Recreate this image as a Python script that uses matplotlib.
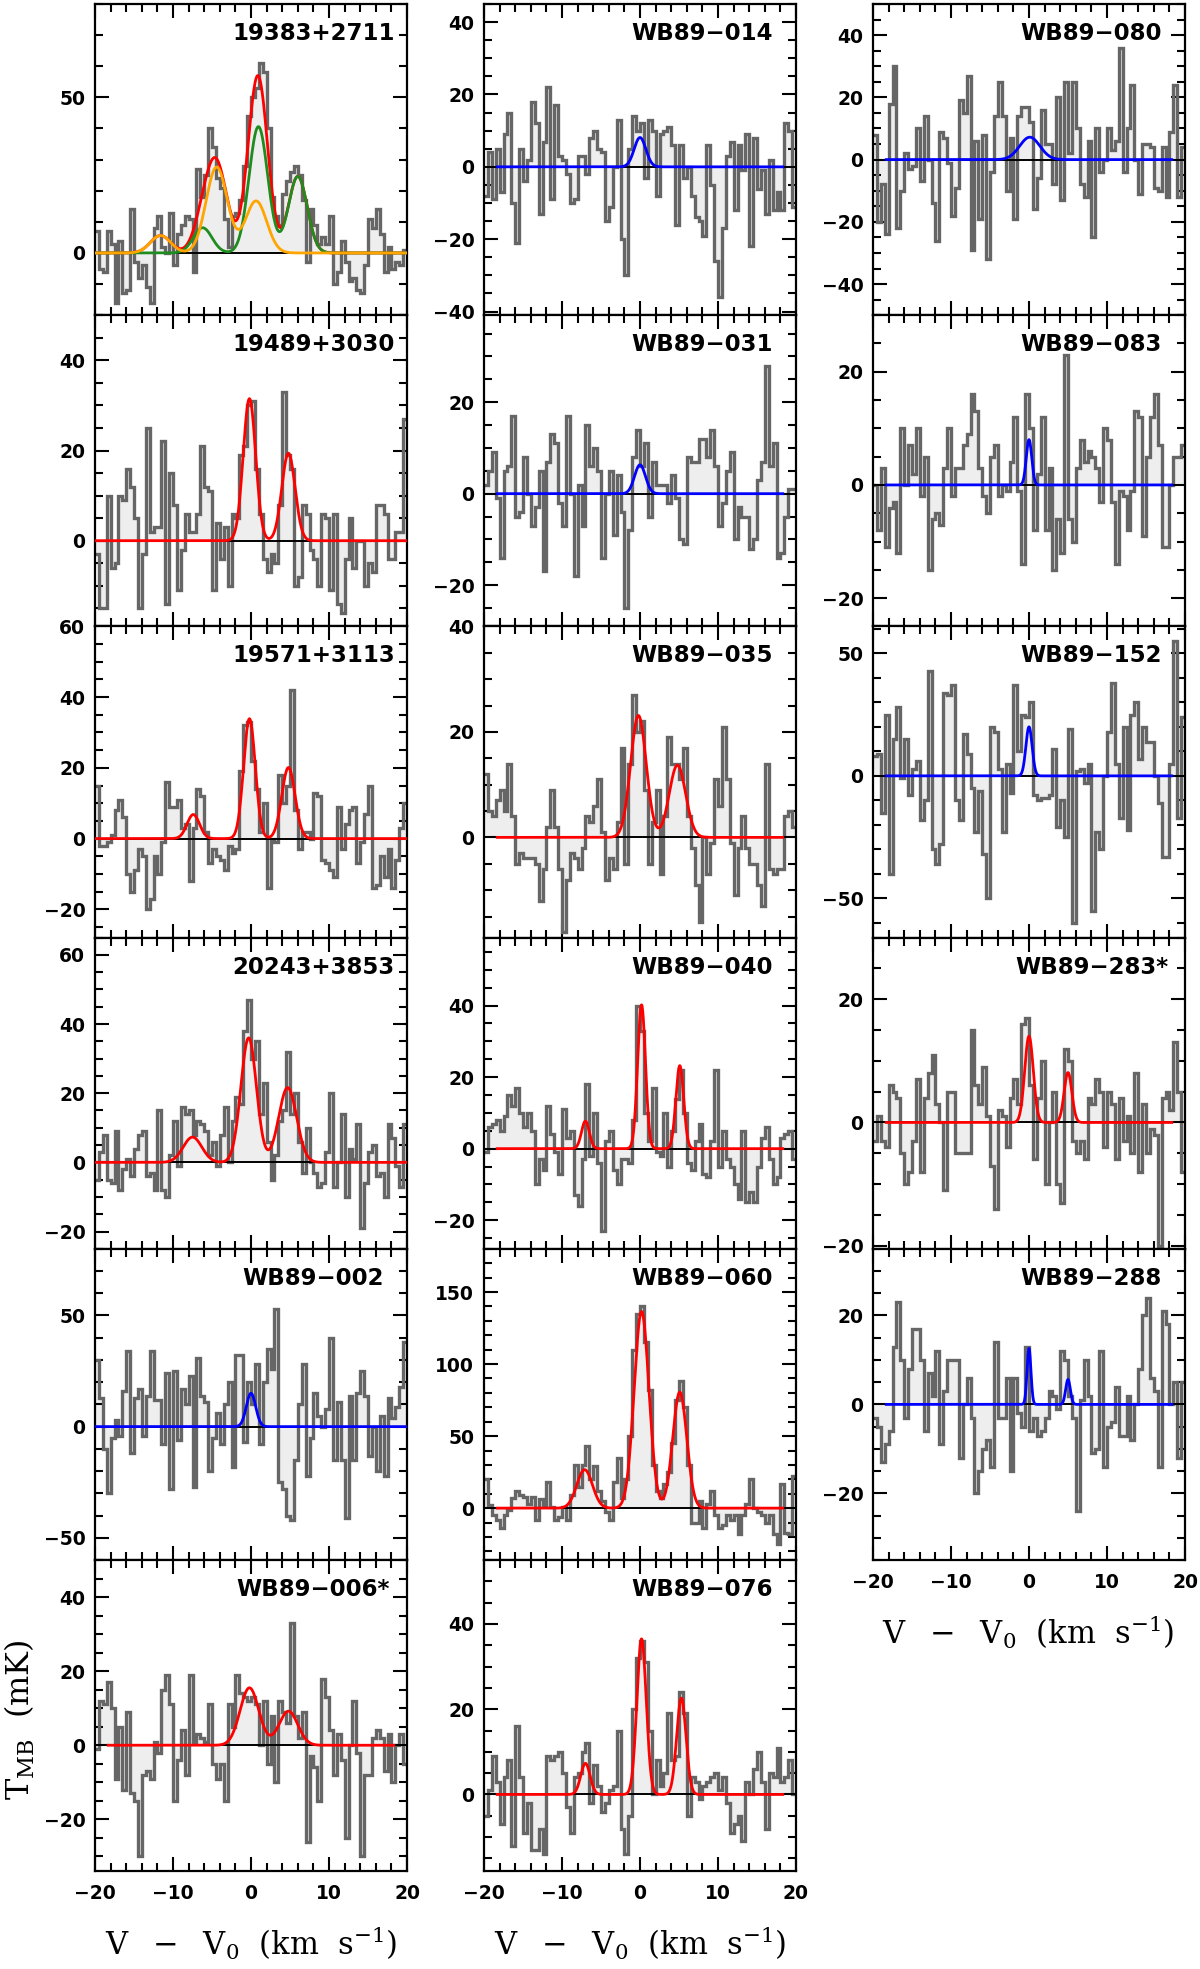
import matplotlib
matplotlib.use('Agg')
import matplotlib.pyplot as plt
from matplotlib.ticker import MultipleLocator
import numpy as np

plt.rcParams['mathtext.fontset'] = 'custom'
plt.rcParams['mathtext.rm'] = 'DejaVu Serif:weight=normal'
plt.rcParams['mathtext.it'] = 'DejaVu Serif:weight=normal:style=italic'
plt.rcParams['mathtext.bf'] = 'DejaVu Serif:weight=bold'
plt.rcParams['font.weight'] = 'bold'
plt.rcParams['font.size'] = 13.5

# velocity channels: 80 channels of 0.5 km/s from -20 to 20
n_chan = 80
vel_edges = np.linspace(-20.0, 20.0, n_chan + 1)

# spectra (T_MB in mK), one value per channel
spec_19383 = [7, -5, -6, 7, 3, -16, 4, -13, -12, 14,
              -3, -8, -4, -11, -16, 8, 12, 2, 0, 13,
              -4, 6, 9, 12, 11, -6, 27, 18, 25, 40,
              34, 24, 21, 11, 2, 12, 13, 17, 28, 44,
              50, 53, 61, 58, 40, 18, 12, 9, 19, 23,
              26, 28, 25, 17, -3, 14, 9, 3, 5, 3,
              12, -10, -6, 4, -3, -9, -8, -12, -13, -4,
              11, 8, 14, 6, -6, 2, -5, -3, -4, 1]
spec_19489 = [-3, -15, -15, 10, -6, -5, 10, 9, 16, 12,
              5, -15, -3, 25, 2, 3, 3, 22, -14, 15,
              8, -11, -2, 6, 2, 2, 6, 21, 12, 11,
              -11, 4, -4, 3, -10, 6, 5, 19, 21, 30,
              31, 16, 6, -4, -7, -3, -5, 8, 33, 19,
              16, -10, -8, 8, 6, -2, -4, -10, 6, 5,
              -11, 6, -14, -16, -4, 5, -6, 0, 0, -10,
              -5, -7, 8, 8, 6, -4, -4, 2, 2, 27]
spec_19571 = [15, -2, -2, -1, 1, 8, 11, 6, -10, -15,
              -9, -3, -5, -20, -17, -5, -10, -1, 16, 9,
              9, 11, 3, 4, -12, 3, 14, 12, 2, -7,
              -3, -5, -6, -9, -2, -4, -3, 19, 32, 33,
              22, 14, 2, 10, -14, 0, -1, 18, 10, 15,
              42, 8, -3, 2, 2, 0, 13, 12, -6, -7,
              -9, -11, 9, -3, 4, 8, 9, -7, -1, 7,
              15, -14, -13, -5, -11, -3, -14, -6, 3, 10]
spec_20243 = [-5, 3, 8, -5, -6, 9, -8, -2, 1, -4,
              4, 8, 9, -4, -3, -8, 15, -8, -10, 2,
              12, -1, 16, 14, 15, 8, 12, 11, 9, 2,
              6, -1, 8, 16, 0, 12, 19, 17, 38, 47,
              30, 35, 14, 23, 6, -5, 2, 12, 15, 32,
              14, 20, 6, -3, 10, 0, -3, -7, -6, 3,
              20, -7, 0, 14, -10, 4, 1, 11, -19, -6,
              3, 5, -4, -3, -10, 11, 7, -1, -7, 11]
spec_002 = [30, 13, -10, -30, -5, 3, -4, 16, 34, -12,
            13, 17, -4, 14, 34, 12, 12, -8, 24, -28,
            25, -6, 17, 10, 23, -27, 31, 14, 11, -20,
            -5, 6, -8, 10, 20, -18, 32, 32, -7, 20,
            10, 28, -8, 20, 35, 26, 53, -25, -28, -40,
            -42, -15, 10, 28, -22, -5, 15, 5, 0, 8,
            40, -15, 11, -15, -41, 14, -15, 15, 25, 14,
            -13, 0, -20, 5, -22, 13, 4, 9, 18, 38]
spec_006 = [-1, 12, 11, 17, 10, -9, 5, -12, 9, -13,
            -15, -30, -8, -7, -9, 1, -2, 15, 19, 11,
            -15, -4, 4, -8, 19, 1, 3, 2, 1, 11,
            -5, -9, -5, -15, 11, 5, 19, 14, 13, 12,
            13, 11, 0, 12, -5, 8, -10, 12, 9, 6,
            33, 8, 2, 9, -26, -3, -6, -15, 18, 13,
            4, -8, 3, -4, -25, 0, 12, -2, -30, -8,
            -8, 2, 4, 2, -7, 3, -10, 0, 3, -5]
spec_014 = [-8, 4, -9, 5, -7, 9, 15, -10, -21, 5,
            -4, 2, 18, 12, -13, 7, 22, -9, 17, 3,
            2, -2, -10, -9, 3, 3, -2, 8, 10, 5,
            4, -15, -11, 0, 13, -20, -30, 5, 14, 10,
            12, -3, 13, 10, -8, 9, 10, 11, 6, -16,
            6, -3, 0, -8, -14, -15, -19, 6, -5, -26,
            -36, -17, 3, 7, -12, 6, -1, 9, -22, 8,
            -6, -1, -13, 2, -12, -7, -12, 12, 10, -11]
spec_031 = [2, 5, 9, -1, -14, 5, 6, 17, -5, -4,
            8, 0, -7, -3, 5, -17, 7, 13, 11, -2,
            -7, 17, 0, -18, 2, -7, 15, 6, 10, 5,
            -14, 0, 5, -9, 4, -4, -25, -8, 8, 14,
            6, 11, -5, 7, 2, 2, 2, -2, 4, -1,
            -10, -11, 8, 7, 7, 12, 12, 8, 14, 6,
            -7, -2, 5, 9, -10, -3, -5, -5, -12, -10,
            3, 7, 28, 6, 11, -14, -13, -5, 1, 1]
spec_035 = [12, 5, 4, 7, 9, 5, 14, 4, -5, -3,
            -4, -4, -4, -5, -12, -6, 2, 9, 2, -6,
            -18, -8, -3, -4, -6, -2, 4, 3, 6, 11,
            1, -8, -4, -6, 3, 17, -5, 14, 27, 20,
            22, 9, -5, 3, 9, -7, 4, 19, 14, 14,
            11, 17, 4, -2, -9, -16, 0, -7, -1, 11,
            6, 21, 11, -1, -11, -2, 4, -2, -5, -5,
            -9, -13, 14, -6, -7, -6, -6, 4, 5, 2]
spec_040 = [-1, 6, 7, 8, 5, 9, 15, 12, 17, 10,
            6, 10, 5, -10, -3, -6, 12, 4, -1, -7,
            11, 3, 5, -13, -16, -3, 18, -2, 10, -4,
            -23, 2, 5, -6, -10, -3, -3, -4, 8, 40,
            33, 10, 2, 17, -1, -2, 10, -5, 5, 14,
            22, 10, -4, -6, 2, 7, -7, -8, 2, 22,
            -5, 5, -3, -5, -10, -14, 5, -15, -12, -15,
            -5, 3, 6, -3, -10, -8, 3, 4, 5, -3]
spec_060 = [20, 2, -5, -8, -14, -5, -1, 7, 12, 9,
            8, 3, 8, -8, 6, 2, 18, 1, -8, -6,
            1, -8, 9, 30, 15, 30, 43, 20, 29, 12,
            5, -3, -8, 18, 35, 7, 20, 50, 110, 135,
            140, 115, 82, 30, 12, 7, 17, 25, 45, 75,
            88, 70, 30, -10, -10, 5, -14, 3, 12, -5,
            -14, -12, -5, -8, -5, -18, -5, 3, 20, 0,
            -3, -5, -10, -5, -18, -25, 17, -17, -18, 22]
spec_076 = [-5, 1, 9, 3, -7, 4, 8, -12, 16, 4,
            -9, -2, -13, -13, -8, -14, 9, 8, 9, 10,
            5, -3, -9, 4, 5, 10, 12, -2, 7, 2,
            -4, -2, 1, 2, 15, -8, -14, -5, 20, 32,
            36, 31, 15, 0, 8, 2, 5, 19, 8, 9,
            24, 19, -5, 4, 3, -1, 2, 3, 4, 5,
            1, 4, -2, -9, -7, -5, -11, 3, 0, 6,
            10, 3, -8, 5, 4, 11, 3, 4, 8, 0]
spec_080 = [8, -20, -8, -24, 18, 30, -22, -10, 2, -3,
            -2, 10, -7, 14, 0, -14, -26, 9, 7, -1,
            -18, -9, 19, 15, 27, -29, 6, -19, 8, -32,
            -4, 14, 25, 14, -10, 7, -19, 14, 17, 17,
            12, -16, -6, 16, 5, 5, -8, 20, -13, 25,
            2, 25, 10, -8, -12, 6, -25, 10, -4, 0,
            10, 3, 6, 36, -4, 10, 24, 0, -11, 5,
            5, 4, -9, -10, 4, -12, 9, 24, -12, 4]
spec_083 = [0, -8, 3, -11, -4, -3, -12, 10, 0, 7,
            2, 10, -2, 5, -15, -6, -5, -7, 3, 10,
            -2, 3, 3, 7, 9, 16, 13, 3, -2, -5,
            5, 7, -2, 0, -1, 4, 12, -1, -14, 16,
            10, -8, 2, 12, -8, 3, -15, -6, -12, 23,
            -6, -10, 3, 8, 4, 6, 5, 3, -3, 10,
            8, -3, -14, -1, -2, -8, -1, 13, 12, -9,
            5, 12, 16, 7, -11, -11, 0, 5, 5, 7]
spec_152 = [8, 9, -15, 25, -40, 15, 28, -1, 15, -8,
            3, 6, -18, -10, 43, -30, -36, -28, 34, 33,
            37, -10, -18, 17, 9, -5, -23, -6, -32, -50,
            20, 18, 3, -23, 5, -7, 37, 10, 25, 24,
            30, -8, -10, -9, -9, -8, 11, -21, -10, -25,
            19, -60, 2, 3, -3, 5, -55, -23, -30, 0,
            18, 38, 5, -17, 20, -22, 25, 30, 7, 20,
            14, 14, 0, -11, -33, -33, 5, 55, -17, 24]
spec_283 = [-3, 1, -3, -4, 6, 5, 4, -5, -10, -8,
            -3, 7, -8, 4, 8, 11, 3, 0, -11, 5,
            5, -5, -5, -5, -5, 15, 6, 3, 9, 1,
            -7, -14, 2, 1, -4, 4, 7, 3, 16, 17,
            6, -6, 4, 10, -10, 0, 5, -10, -13, 12,
            10, -3, -5, -3, -6, 4, 3, 7, 5, -4,
            5, 3, -6, 4, -3, 1, -5, 8, -8, 3,
            -5, -1, -2, -20, 4, 5, 2, 13, 5, -8]
spec_288 = [-3, -5, -13, -9, -6, 13, 23, 10, -3, 8,
            17, 17, 10, -6, 7, 2, 12, -9, 3, 10,
            10, 10, -12, 0, 6, -3, -20, -15, -10, -8,
            -14, 14, -3, -3, 6, -15, 6, -2, -5, 13,
            -6, -3, -7, -6, -3, 3, 2, -1, 12, 10,
            2, -3, -24, 1, 10, 2, -11, -10, 12, -14,
            -5, -4, 4, -7, -7, 2, -8, 0, 8, 20,
            24, 6, 3, -14, 21, 18, 0, 5, -12, 5]

# gaussian fit components: (amplitude mK, centre km/s, sigma km/s)
fit_19383_green = [(8.1, -6.2, 1.2), (40.6, 0.95, 1.2), (24.6, 6.0, 1.2)]
fit_19383_orange = [(5.6, -11.6, 1.3), (27.6, -4.4, 1.36), (16.7, 0.65, 1.36)]
fit_19489 = [(31.5, -0.2, 0.8), (19.4, 4.8, 0.85)]
fit_19571 = [(6.8, -7.4, 0.8), (33.9, -0.2, 0.75), (20.1, 4.8, 0.85)]
fit_20243 = [(7.3, -7.5, 1.2), (36.0, -0.3, 1.0), (21.6, 4.7, 1.15)]
fit_002 = [(15.0, 0.0, 0.6)]
fit_006 = [(15.5, -0.2, 1.2), (9.2, 4.8, 1.2)]
fit_014 = [(8.1, 0.0, 0.75)]
fit_031 = [(6.3, 0.0, 0.7)]
fit_035 = [(23.1, -0.2, 1.0), (13.7, 4.8, 1.05)]
fit_040 = [(7.7, -7.0, 0.5), (40.2, 0.2, 0.5), (23.2, 5.1, 0.5)]
fit_060 = [(26.7, -7.1, 1.0), (136.5, 0.2, 0.95), (80.5, 5.1, 0.9)]
fit_076 = [(7.3, -7.0, 0.6), (36.5, 0.2, 0.6), (22.6, 5.3, 0.6)]
fit_080 = [(7.2, 0.1, 1.3)]
fit_083 = [(8.0, 0.0, 0.35)]
fit_152 = [(20.0, 0.0, 0.4)]
fit_283 = [(14.0, 0.0, 0.55), (8.1, 5.0, 0.5)]
fit_288 = [(12.6, 0.0, 0.25), (5.6, 5.0, 0.3)]

M = '\u2212'
# name, spectrum, fit, fit colour, column, row, ylim, major, minor, fit spans full axis
panels = [
    ('19383+2711', spec_19383, None, 'red', 0, 0, (-20, 80), 50, 10, True),
    ('19489+3030', spec_19489, fit_19489, 'red', 0, 1, (-19, 50), 20, 5, True),
    ('19571+3113', spec_19571, fit_19571, 'red', 0, 2, (-28, 60), 20, 5, True),
    ('20243+3853', spec_20243, fit_20243, 'red', 0, 3, (-25, 65), 20, 5, True),
    ('WB89' + M + '002', spec_002, fit_002, 'blue', 0, 4, (-60, 80), 50, 10, True),
    ('WB89' + M + '006*', spec_006, fit_006, 'red', 0, 5, (-34, 50), 20, 5, False),
    ('WB89' + M + '014', spec_014, fit_014, 'blue', 1, 0, (-41, 45), 20, 5, False),
    ('WB89' + M + '031', spec_031, fit_031, 'blue', 1, 1, (-29, 39), 20, 5, False),
    ('WB89' + M + '035', spec_035, fit_035, 'red', 1, 2, (-19, 40), 20, 5, False),
    ('WB89' + M + '040', spec_040, fit_040, 'red', 1, 3, (-28, 59), 20, 5, False),
    ('WB89' + M + '060', spec_060, fit_060, 'red', 1, 4, (-36, 180), 50, 10, False),
    ('WB89' + M + '076', spec_076, fit_076, 'red', 1, 5, (-18, 55), 20, 5, False),
    ('WB89' + M + '080', spec_080, fit_080, 'blue', 2, 0, (-50, 50), 20, 5, False),
    ('WB89' + M + '083', spec_083, fit_083, 'blue', 2, 1, (-25, 30), 20, 5, False),
    ('WB89' + M + '152', spec_152, fit_152, 'blue', 2, 2, (-66, 61), 50, 10, False),
    ('WB89' + M + '283*', spec_283, fit_283, 'red', 2, 3, (-20.5, 30), 20, 5, False),
    ('WB89' + M + '288', spec_288, fit_288, 'blue', 2, 4, (-35, 35), 20, 5, False),
]
bottom_rows = {0: 5, 1: 5, 2: 4}


def gauss_sum(v, comps):
    y = np.zeros_like(v)
    for amp, cen, sig in comps:
        y += amp * np.exp(-0.5 * ((v - cen) / sig) ** 2)
    return y


FIG_W, FIG_H = 1200, 1969
col_left = [95, 484, 873]
panel_w = 312
panel_h = 311.2
top0 = 4

fig = plt.figure(figsize=(FIG_W / 100, FIG_H / 100), dpi=100)

for name, spec, fit, fcol, col, row, ylim, major, minor, full in panels:
    bottom = 1 - (top0 + (row + 1) * panel_h) / FIG_H
    ax = fig.add_axes([col_left[col] / FIG_W, bottom, panel_w / FIG_W, panel_h / FIG_H])

    ax.stairs(spec, vel_edges, baseline=0, fill=True, color='#eeeeee', zorder=1)
    ax.stairs(spec, vel_edges, baseline=None, color='#666666', lw=2.4, zorder=2)
    ax.axhline(0, color='black', lw=1.4, zorder=3)

    if full:
        vf = np.linspace(-20, 20, 1200)
    else:
        vf = np.linspace(-18.3, 18.3, 1100)
    if fit is None:
        green = gauss_sum(vf, fit_19383_green)
        orange = gauss_sum(vf, fit_19383_orange)
        ax.plot(vf, green + orange, color='red', lw=2.0, zorder=4)
        ax.plot(vf, green, color='#1f8c1f', lw=2.0, zorder=5)
        ax.plot(vf, orange, color='orange', lw=2.0, zorder=6)
    else:
        ax.plot(vf, gauss_sum(vf, fit), color=fcol, lw=2.0, zorder=4)

    ax.set_xlim(-20, 20)
    ax.set_ylim(*ylim)
    ax.xaxis.set_major_locator(MultipleLocator(10))
    ax.xaxis.set_minor_locator(MultipleLocator(2))
    ax.yaxis.set_major_locator(MultipleLocator(major))
    ax.yaxis.set_minor_locator(MultipleLocator(minor))
    ax.tick_params(which='both', direction='in', top=True, right=True, width=1.5)
    ax.tick_params(which='major', length=10)
    ax.tick_params(which='minor', length=5.5)
    ax.tick_params(axis='y', pad=7)
    ax.tick_params(axis='x', pad=9)
    if row != bottom_rows[col]:
        ax.tick_params(axis='x', labelbottom=False)
    for sp in ax.spines.values():
        sp.set_linewidth(1.6)

    ax.text(0.70, 0.905, name, transform=ax.transAxes, ha='center', va='center',
            fontsize=16.5, fontweight='bold', zorder=7)

xlab = r'$\mathrm{V\ \ -\ \ V_0\ \ (km\ \ s^{-1})}$'
for cx, cy in [(251, 1943), (640, 1943), (1028, 1632)]:
    fig.text(cx / FIG_W, 1 - cy / FIG_H, xlab, ha='center', va='center',
             fontsize=22, fontweight='normal')
fig.text(20 / FIG_W, 1 - 1720 / FIG_H, r'$\mathrm{T_{MB}\ \ (mK)}$', ha='center', va='center',
         rotation=90, fontsize=23, fontweight='normal')

fig.savefig('out.png', dpi=100)
